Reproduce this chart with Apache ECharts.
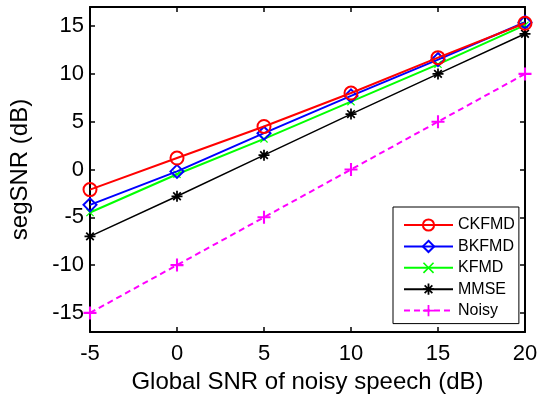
<!DOCTYPE html>
<html>
<head>
<meta charset="utf-8">
<script src="https://cdn.jsdelivr.net/npm/echarts@6/dist/echarts.min.js"></script>
<style>
	html, body { margin: 0; padding: 0; background: #fff; }
	#chart_snr { width: 544px; height: 396px; }
</style>
</head>
<body>
<div id="chart_snr"></div>
<script>
	// global SNR (dB) on the x axis
	var snr = [-5, 0, 5, 10, 15, 20];
	var yTicks = [-15, -10, -5, 0, 5, 10, 15];

	// segSNR (dB) per method
	var ckfmd = [-2.1, 1.2, 4.5, 8.0, 11.7, 15.3];
	var bkfmd = [-3.7, -0.2, 3.8, 7.7, 11.5, 15.4];
	var kfmd = [-4.5, -0.5, 3.2, 7.1, 11.0, 15.1];
	var mmse = [-7.0, -2.8, 1.5, 5.8, 10.0, 14.2];
	var noisy = [-15, -10, -5, 0, 5, 10];

	var font = "'Liberation Sans', Arial, Helvetica, sans-serif";

	function pairs(ys) {
		return snr.map(function(x, i) { return [x, ys[i]]; });
	}

	// marker shapes drawn as filled bars
	var plusPath = 'path://M0,4.2H10V5.8H0Z M4.2,0H5.8V10H4.2Z';
	var xPath = 'path://M0,1L1,0L10,9L9,10Z M9,0L10,1L1,10L0,9Z';
	var starPath = 'path://M0,4.2H10V5.8H0Z M4.2,0H5.8V10H4.2Z M1,2.1L2.1,1L9,7.9L7.9,9Z M7.9,1L9,2.1L2.1,9L1,7.9Z';

	function frameAxis(extra) {
		var ax = {
			axisLine: { onZero: false, lineStyle: { color: '#000', width: 2 } },
			axisTick: { inside: true, length: 5, lineStyle: { color: '#000', width: 1.5 } },
			splitLine: { show: false }
		};
		return Object.assign(ax, extra);
	}

	var option = {
		animation: false,
		grid: { left: 90, right: 19, top: 7, bottom: 64, outerBoundsMode: 'none' },
		legend: {
			orient: 'vertical',
			left: 393,
			top: 207,
			padding: [10, 4, 5, 10],
			itemWidth: 49,
			itemHeight: 14,
			itemGap: 5.4,
			backgroundColor: '#fff',
			borderColor: '#000',
			borderWidth: 1,
			borderRadius: 0,
			textStyle: { fontFamily: font, fontSize: 16, color: '#000' },
			data: ['CKFMD', 'BKFMD', 'KFMD', 'MMSE', 'Noisy']
		},
		xAxis: [
			frameAxis({
				type: 'value', min: -5, max: 20, interval: 5,
				name: 'Global SNR of noisy speech (dB)',
				nameLocation: 'middle',
				nameGap: 35,
				nameTextStyle: { fontFamily: font, fontSize: 24, color: '#000' },
				axisLabel: { fontFamily: font, fontSize: 22, color: '#000', margin: 11 }
			}),
			frameAxis({
				type: 'value', min: -5, max: 20, interval: 5, position: 'top',
				axisLabel: { show: false }
			})
		],
		yAxis: [
			frameAxis({
				type: 'value', min: -17, max: 17,
				name: 'segSNR (dB)',
				nameLocation: 'middle',
				nameGap: 58,
				nameTextStyle: { fontFamily: font, fontSize: 24, color: '#000' },
				axisTick: { inside: true, length: 5, customValues: yTicks, lineStyle: { color: '#000', width: 1.5 } },
				axisLabel: { fontFamily: font, fontSize: 22, color: '#000', margin: 6, customValues: yTicks }
			}),
			frameAxis({
				type: 'value', min: -17, max: 17, position: 'right',
				axisTick: { inside: true, length: 5, customValues: yTicks, lineStyle: { color: '#000', width: 1.5 } },
				axisLabel: { show: false }
			})
		],
		series: [
			{
				name: 'Noisy', type: 'line', data: pairs(noisy), z: 2,
				symbol: plusPath, symbolSize: 13,
				lineStyle: { color: '#ff00ff', width: 2, type: [6, 4] },
				itemStyle: { color: '#ff00ff', borderWidth: 0 }
			},
			{
				name: 'MMSE', type: 'line', data: pairs(mmse), z: 3,
				symbol: starPath, symbolSize: 11,
				lineStyle: { color: '#000', width: 1.5 },
				itemStyle: { color: '#000', borderWidth: 0 }
			},
			{
				name: 'KFMD', type: 'line', data: pairs(kfmd), z: 4,
				symbol: xPath, symbolSize: 8,
				lineStyle: { color: '#00ff00', width: 2 },
				itemStyle: { color: '#00ff00', borderWidth: 0 }
			},
			{
				name: 'BKFMD', type: 'line', data: pairs(bkfmd), z: 5,
				symbol: 'diamond', symbolSize: 13,
				lineStyle: { color: '#0000ff', width: 2 },
				itemStyle: { color: 'rgba(0,0,0,0)', borderColor: '#0000ff', borderWidth: 2 }
			},
			{
				name: 'CKFMD', type: 'line', data: pairs(ckfmd), z: 6,
				symbol: 'circle', symbolSize: 13,
				lineStyle: { color: '#ff0000', width: 2 },
				itemStyle: { color: 'rgba(0,0,0,0)', borderColor: '#ff0000', borderWidth: 2 }
			}
		]
	};

	var myChart = echarts.init(document.getElementById('chart_snr'));
	myChart.setOption(option);
</script>
</body>
</html>
